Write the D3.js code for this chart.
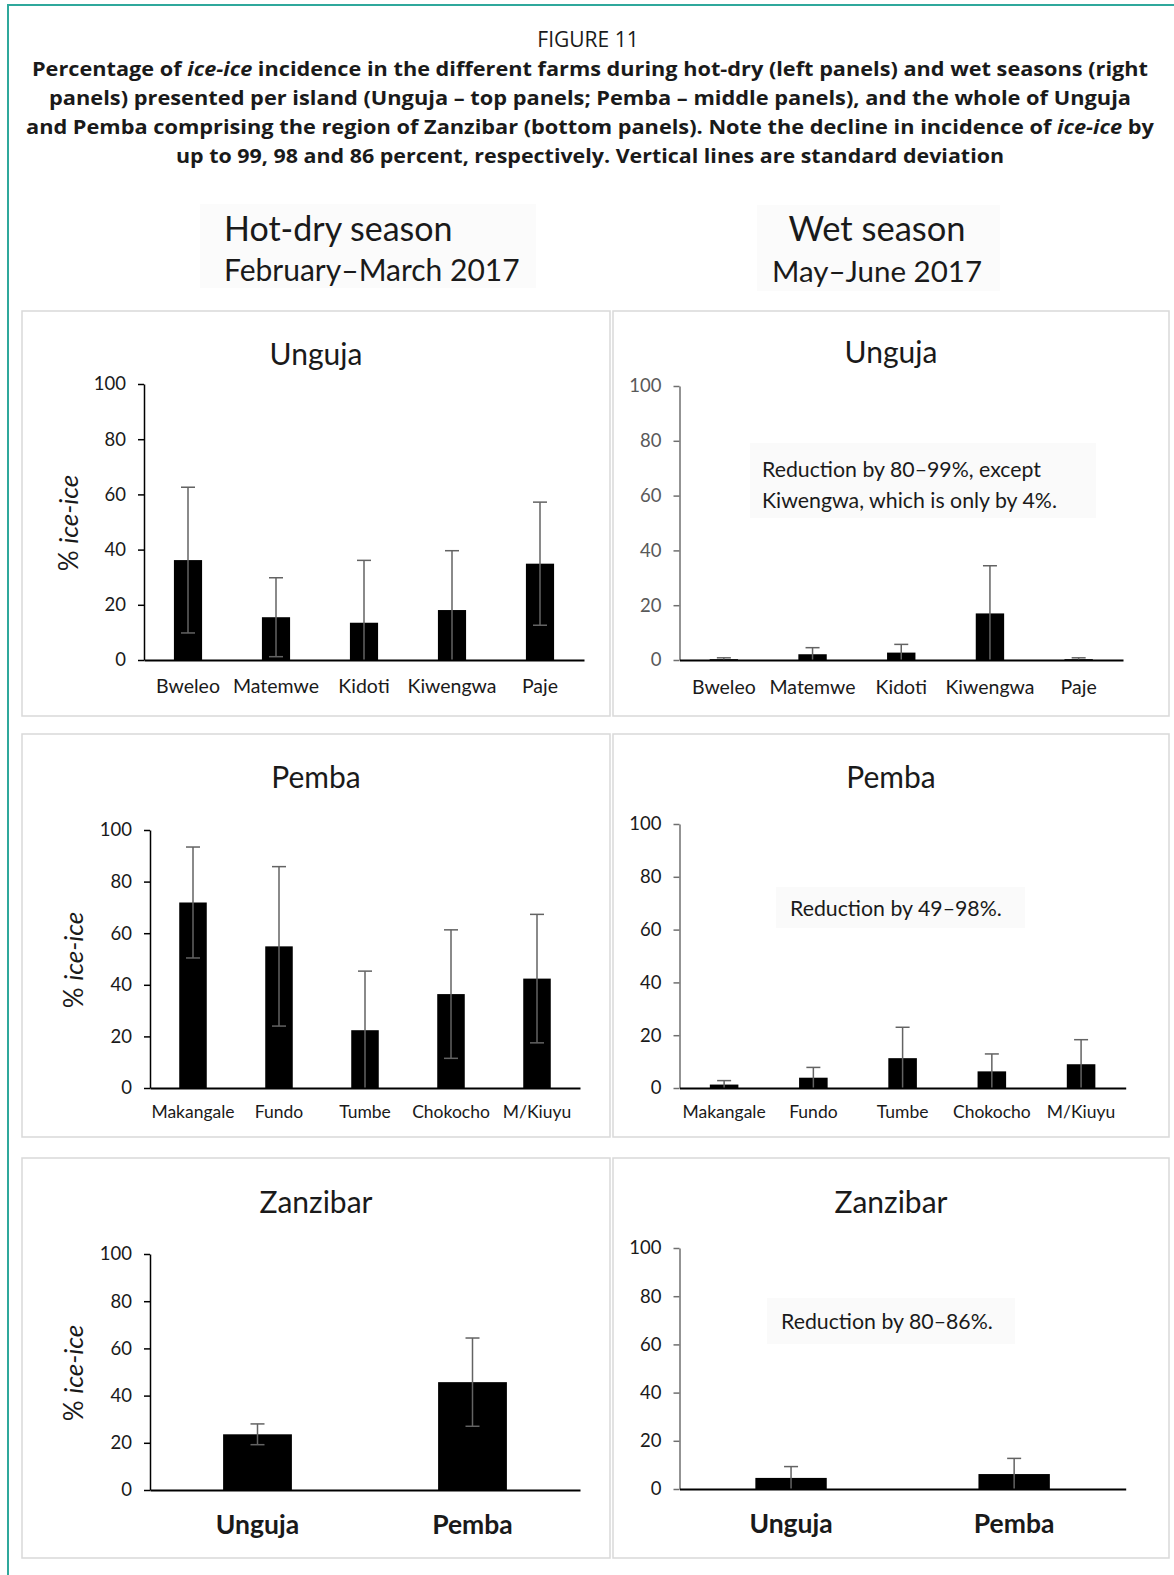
<!DOCTYPE html>
<html>
<head>
<meta charset="utf-8">
<script src="https://cdn.jsdelivr.net/npm/d3@7"></script>
<style>
  body { margin: 0; background: #fff; }
  svg { display: block; font-family: Lato, "Open Sans", sans-serif; }
</style>
</head>
<body>
<svg id="fig" width="1174" height="1575"></svg>
<script>
// datos (% ice-ice, media y desviacion estandar)
const ungujaFarms = ["Bweleo", "Matemwe", "Kidoti", "Kiwengwa", "Paje"];
const hotUngujaMean = [36.2, 15.5, 13.5, 18.1, 34.9];
const hotUngujaSd = [26.4, 14.3, 22.6, 21.5, 22.3];
const wetUngujaMean = [0.3, 2.1, 2.7, 17.0, 0.3];
const wetUngujaSd = [0.5, 2.4, 3.0, 17.4, 0.5];

const pembaFarms = ["Makangale", "Fundo", "Tumbe", "Chokocho", "M/Kiuyu"];
const hotPembaMean = [71.9, 54.9, 22.4, 36.4, 42.4];
const hotPembaSd = [21.5, 30.9, 22.9, 24.9, 24.9];
const wetPembaMean = [1.3, 3.9, 11.3, 6.3, 9.0];
const wetPembaSd = [1.5, 3.9, 11.7, 6.6, 9.3];

const islands = ["Unguja", "Pemba"];
const hotZanzibarMean = [23.6, 45.7];
const hotZanzibarSd = [4.4, 18.7];
const wetZanzibarMean = [4.6, 6.2];
const wetZanzibarSd = [4.7, 6.5];

const yTicks = [0, 20, 40, 60, 80, 100];

const figureLabel = "FIGURE 11";
const captionLines = [
  [["Percentage of ", 0], ["ice-ice", 1], [" incidence in the different farms during hot-dry (left panels) and wet seasons (right", 0]],
  [["panels) presented per island (Unguja – top panels; Pemba – middle panels), and the whole of Unguja", 0]],
  [["and Pemba comprising the region of Zanzibar (bottom panels). Note the decline in incidence of ", 0], ["ice-ice", 1], [" by", 0]],
  [["up to 99, 98 and 86 percent, respectively. Vertical lines are standard deviation", 0]]
];
const captionWidths = [1116, 1082, 1128, 828];

const svg = d3.select("#fig");
const ink = "#1a1a1a";

svg.append("rect").attr("width", 1174).attr("height", 1575).attr("fill", "#fff");
// borde verde azulado del recuadro
svg.append("path")
  .attr("d", "M8,1575V5H1174")
  .attr("fill", "none")
  .attr("stroke", "#2fa89c")
  .attr("stroke-width", 2);

svg.append("text")
  .attr("x", 588).attr("y", 47)
  .attr("text-anchor", "middle")
  .attr("font-family", "'Open Sans'")
  .attr("font-size", 21)
  .attr("fill", ink)
  .text(figureLabel);

captionLines.forEach((segs, i) => {
  const t = svg.append("text")
    .attr("x", 590).attr("y", 76 + i * 29.1)
    .attr("text-anchor", "middle")
    .attr("font-family", "'Open Sans'")
    .attr("font-weight", 700)
    .attr("font-size", 19.5)
    .attr("fill", ink)
    .attr("textLength", captionWidths[i])
    .attr("lengthAdjust", "spacingAndGlyphs");
  segs.forEach(s => t.append("tspan").attr("font-style", s[1] ? "italic" : null).text(s[0]));
});

// encabezados de temporada
svg.append("rect").attr("x", 200).attr("y", 204).attr("width", 336).attr("height", 84).attr("fill", "#fbfbfb");
svg.append("rect").attr("x", 757).attr("y", 205).attr("width", 243).attr("height", 86).attr("fill", "#fbfbfb");
svg.append("text").attr("x", 224).attr("y", 241).attr("font-size", 34).attr("fill", ink).text("Hot-dry season");
svg.append("text").attr("x", 224).attr("y", 281).attr("font-size", 30).attr("fill", ink).text("February–March 2017");
svg.append("text").attr("x", 877).attr("y", 241).attr("text-anchor", "middle").attr("font-size", 34.5).attr("fill", ink).text("Wet season");
svg.append("text").attr("x", 877).attr("y", 282).attr("text-anchor", "middle").attr("font-size", 29.5).attr("fill", ink).text("May–June 2017");

const panels = [
  { box: [22, 311, 588, 405], title: "Unguja", titleY: 365, plot: [144, 584, 384, 660],
    cats: ungujaFarms, mean: hotUngujaMean, sd: hotUngujaSd, catSize: 19.5, catY: 693,
    yLabel: [69, 523], tickColor: ink, yAxisColor: "#000" },
  { box: [613, 311, 556, 405], title: "Unguja", titleY: 363, plot: [679.5, 1123, 386, 660],
    cats: ungujaFarms, mean: wetUngujaMean, sd: wetUngujaSd, catSize: 19.5, catY: 694,
    tickColor: "#595959", yAxisColor: "#6f6f6f",
    note: { box: [750, 443, 346, 75], x: 762, y: [477, 508],
            lines: ["Reduction by 80–99%, except", "Kiwengwa, which is only by 4%."] } },
  { box: [22, 734, 588, 403], title: "Pemba", titleY: 788, plot: [150, 580, 830, 1088],
    cats: pembaFarms, mean: hotPembaMean, sd: hotPembaSd, catSize: 17.5, catY: 1118,
    yLabel: [74, 960], tickColor: ink, yAxisColor: "#000" },
  { box: [613, 734, 556, 403], title: "Pemba", titleY: 788, plot: [679.5, 1125.7, 824, 1088],
    cats: pembaFarms, mean: wetPembaMean, sd: wetPembaSd, catSize: 17.5, catY: 1118,
    tickColor: ink, yAxisColor: "#6f6f6f",
    note: { box: [776, 887, 249, 41], x: 790, y: [916], lines: ["Reduction by 49–98%."] } },
  { box: [22, 1158, 588, 400], title: "Zanzibar", titleY: 1213, plot: [150, 580, 1254, 1490],
    cats: islands, mean: hotZanzibarMean, sd: hotZanzibarSd, catSize: 26.5, catBold: true, catY: 1534,
    yLabel: [74, 1373], tickColor: ink, yAxisColor: "#000" },
  { box: [613, 1158, 556, 400], title: "Zanzibar", titleY: 1213, plot: [679.5, 1125.7, 1248, 1489],
    cats: islands, mean: wetZanzibarMean, sd: wetZanzibarSd, catSize: 26.5, catBold: true, catY: 1533,
    tickColor: ink, yAxisColor: "#6f6f6f",
    note: { box: [767, 1298, 248, 46], x: 781, y: [1329], lines: ["Reduction by 80–86%."] } }
];

panels.forEach(p => {
  const [bx, by, bw, bh] = p.box;
  const [x0, x1, yTop, yBottom] = p.plot;
  const g = svg.append("g");

  g.append("rect")
    .attr("x", bx).attr("y", by).attr("width", bw).attr("height", bh)
    .attr("fill", "#fff").attr("stroke", "#d9d9d9").attr("stroke-width", 1.5);

  g.append("text")
    .attr("x", bx + bw / 2).attr("y", p.titleY)
    .attr("text-anchor", "middle")
    .attr("font-size", 30)
    .attr("fill", ink)
    .text(p.title);

  if (p.note) {
    const [nx, ny, nw, nh] = p.note.box;
    g.append("rect").attr("x", nx).attr("y", ny).attr("width", nw).attr("height", nh).attr("fill", "#fafafa");
    p.note.lines.forEach((line, i) => {
      g.append("text")
        .attr("x", p.note.x).attr("y", p.note.y[i])
        .attr("font-size", 21.3)
        .attr("fill", ink)
        .text(line);
    });
  }

  const x = d3.scaleBand()
    .domain(p.cats)
    .range([x0, x1])
    .paddingInner(0.68)
    .paddingOuter(0.34);
  const y = d3.scaleLinear().domain([0, 100]).range([yBottom, yTop]);

  const yAxis = g.append("g")
    .attr("transform", `translate(${x0},0)`)
    .call(d3.axisLeft(y).tickValues(yTicks).tickSize(6).tickSizeOuter(0).tickPadding(12));
  yAxis.select(".domain").attr("stroke", p.yAxisColor).attr("stroke-width", 1.5);
  yAxis.selectAll(".tick line").attr("stroke", p.yAxisColor).attr("stroke-width", 1.5);
  yAxis.selectAll(".tick text")
    .attr("font-family", "Lato")
    .attr("font-size", 18.5)
    .attr("fill", p.tickColor);

  const rows = p.cats.map((c, i) => ({ cat: c, mean: p.mean[i], sd: p.sd[i] }));

  g.selectAll(".bar")
    .data(rows)
    .join("rect")
    .attr("x", d => x(d.cat))
    .attr("y", d => y(d.mean))
    .attr("width", x.bandwidth())
    .attr("height", d => y(0) - y(d.mean))
    .attr("fill", "#000");

  // barras de error (desviacion estandar), recortadas en cero
  const cap = 7;
  const err = g.append("g").attr("stroke", "#636363").attr("stroke-width", 1.5);
  rows.forEach(d => {
    const cx = x(d.cat) + x.bandwidth() / 2;
    const lo = Math.max(0, d.mean - d.sd);
    const hi = d.mean + d.sd;
    err.append("line").attr("x1", cx).attr("x2", cx).attr("y1", y(lo)).attr("y2", y(hi));
    err.append("line").attr("x1", cx - cap).attr("x2", cx + cap).attr("y1", y(hi)).attr("y2", y(hi));
    if (lo > 0) {
      err.append("line").attr("x1", cx - cap).attr("x2", cx + cap).attr("y1", y(lo)).attr("y2", y(lo));
    }
  });

  const xAxis = g.append("g")
    .attr("transform", `translate(0,${yBottom})`)
    .call(d3.axisBottom(x).tickSize(0).tickSizeOuter(0));
  xAxis.select(".domain").attr("stroke", "#000").attr("stroke-width", 2);
  xAxis.selectAll(".tick text")
    .attr("y", p.catY - yBottom)
    .attr("dy", 0)
    .attr("font-family", "Lato")
    .attr("font-size", p.catSize)
    .attr("font-weight", p.catBold ? 700 : null)
    .attr("fill", ink);

  if (p.yLabel) {
    const lab = g.append("text")
      .attr("transform", `translate(${p.yLabel[0]},${p.yLabel[1]}) rotate(-90)`)
      .attr("text-anchor", "middle")
      .attr("dy", "0.35em")
      .attr("font-size", 26)
      .attr("fill", ink);
    lab.append("tspan").text("% ");
    lab.append("tspan").attr("font-style", "italic").text("ice-ice");
  }
});
</script>
</body>
</html>
